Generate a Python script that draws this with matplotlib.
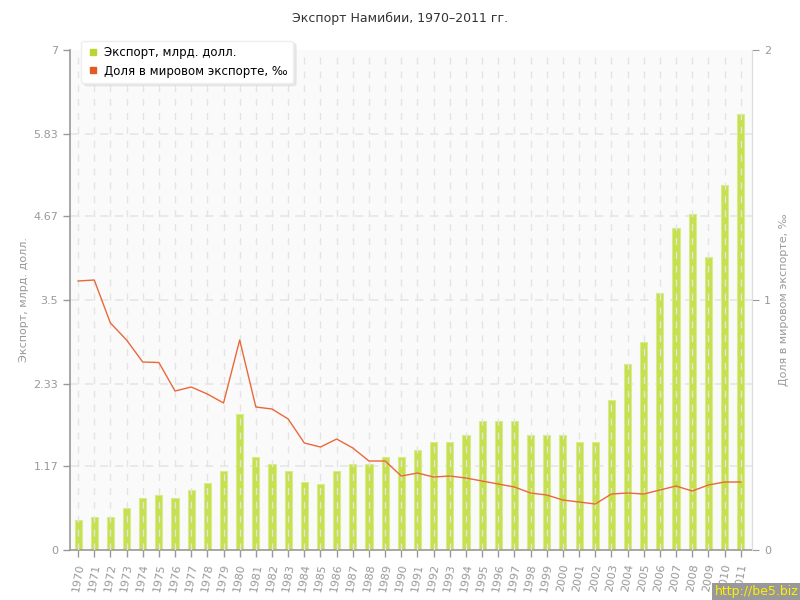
import matplotlib
matplotlib.use('Agg')
import matplotlib.pyplot as plt
import numpy as np
from matplotlib.lines import Line2D

years = list(range(1970, 2012))
export_bn = [0.42, 0.46, 0.46, 0.59, 0.73, 0.77, 0.73, 0.84, 0.94, 1.11,
             1.90, 1.30, 1.20, 1.11, 0.95, 0.92, 1.11, 1.20, 1.20, 1.30,
             1.30, 1.40, 1.51, 1.51, 1.61, 1.81, 1.81, 1.81, 1.61, 1.61,
             1.61, 1.51, 1.51, 2.10, 2.60, 2.91, 3.60, 4.51, 4.70, 4.10,
             5.11, 6.10]
share_permille = [1.076, 1.08, 0.908, 0.84, 0.752, 0.75, 0.636, 0.652, 0.624, 0.588,
                  0.84, 0.572, 0.564, 0.524, 0.428, 0.412, 0.444, 0.408, 0.356, 0.356,
                  0.296, 0.308, 0.292, 0.296, 0.288, 0.276, 0.264, 0.252, 0.228, 0.22,
                  0.2, 0.192, 0.184, 0.224, 0.228, 0.224, 0.24, 0.256, 0.236, 0.26,
                  0.272, 0.272]
left_ticks = [0, 1.17, 2.33, 3.5, 4.67, 5.83, 7]
left_ticklabels = ['0', '1.17', '2.33', '3.5', '4.67', '5.83', '7']
right_ticks = [0, 1, 2]

bar_color = '#c6e050'
line_color = '#e8693a'
grey = '#999999'

fig = plt.figure(figsize=(8, 6), dpi=100, facecolor='white')
ax = fig.add_axes([0.0875, 0.0833, 0.8525, 0.8334])
ax.set_facecolor('#fafafa')
x = np.arange(len(years))

ax.bar(x, export_bn, width=0.44, color=bar_color, edgecolor='#d8ec8a', linewidth=0.8, zorder=2)
for xi in x:
    ax.axvline(xi, color='#e4e4e4', linestyle=(0, (5, 5)), linewidth=1, zorder=3)
for t in left_ticks[1:-1]:
    ax.axhline(t, color='#e6e6e6', linestyle=(0, (5, 4)), linewidth=1.2, zorder=1)

ax.set_xlim(-0.5, len(years) - 0.3)
ax.set_ylim(0, 7)
ax.set_yticks(left_ticks)
ax.set_yticklabels(left_ticklabels)
ax.set_xticks(x)
ax.set_xticklabels([str(y) for y in years], rotation=80, ha='center', va='top')
ax.tick_params(axis='both', colors=grey, labelcolor=grey, labelsize=8, length=5, width=1)
ax.tick_params(axis='x', pad=4)
ax.spines['top'].set_visible(False)
ax.spines['right'].set_color('#dddddd')
ax.spines['left'].set_color(grey)
ax.spines['bottom'].set_color(grey)
ax.spines['left'].set_linewidth(1.2)
ax.spines['bottom'].set_linewidth(1.2)
ax.set_ylabel('Экспорт, млрд. долл.', color=grey, fontsize=8, labelpad=3)

ax2 = ax.twinx()
ax2.plot(x, share_permille, color=line_color, linewidth=1.0, zorder=4)
ax2.set_ylim(0, 2)
ax2.set_yticks(right_ticks)
ax2.tick_params(axis='y', colors=grey, labelcolor=grey, labelsize=8, length=5)
for s in ['top', 'left', 'bottom']:
    ax2.spines[s].set_visible(False)
ax2.spines['right'].set_color('#dddddd')
ax2.set_ylabel('Доля в мировом экспорте, ‰', color=grey, fontsize=8, labelpad=6)

fig.text(0.5, 0.97, 'Экспорт Намибии, 1970–2011 гг.', ha='center', va='center', fontsize=9, color='#333333')

handles = [Line2D([], [], marker='s', linestyle='none', color='#b8d631', markersize=4.5),
           Line2D([], [], marker='s', linestyle='none', color='#e45a22', markersize=4.5)]
leg = ax.legend(handles, ['Экспорт, млрд. долл.', 'Доля в мировом экспорте, ‰'],
                loc='upper left', bbox_to_anchor=(0.008, 1.03), fontsize=8.5, frameon=True,
                fancybox=True, shadow={'color': '#d8d8d8', 'ox': 2, 'oy': -2},
                handletextpad=0.5, borderpad=0.45, labelspacing=0.45, handlelength=1.0)
leg.get_frame().set_edgecolor('#eeeeee')
leg.get_frame().set_alpha(1)
leg.set_zorder(10)

fig.text(0.998, 0.003, 'http://be5.biz', ha='right', va='bottom', fontsize=9, color='#ffee00',
         bbox=dict(boxstyle='square,pad=0.2', fc='#999999', ec='none'))

fig.savefig('out.png', dpi=100, facecolor='white')
